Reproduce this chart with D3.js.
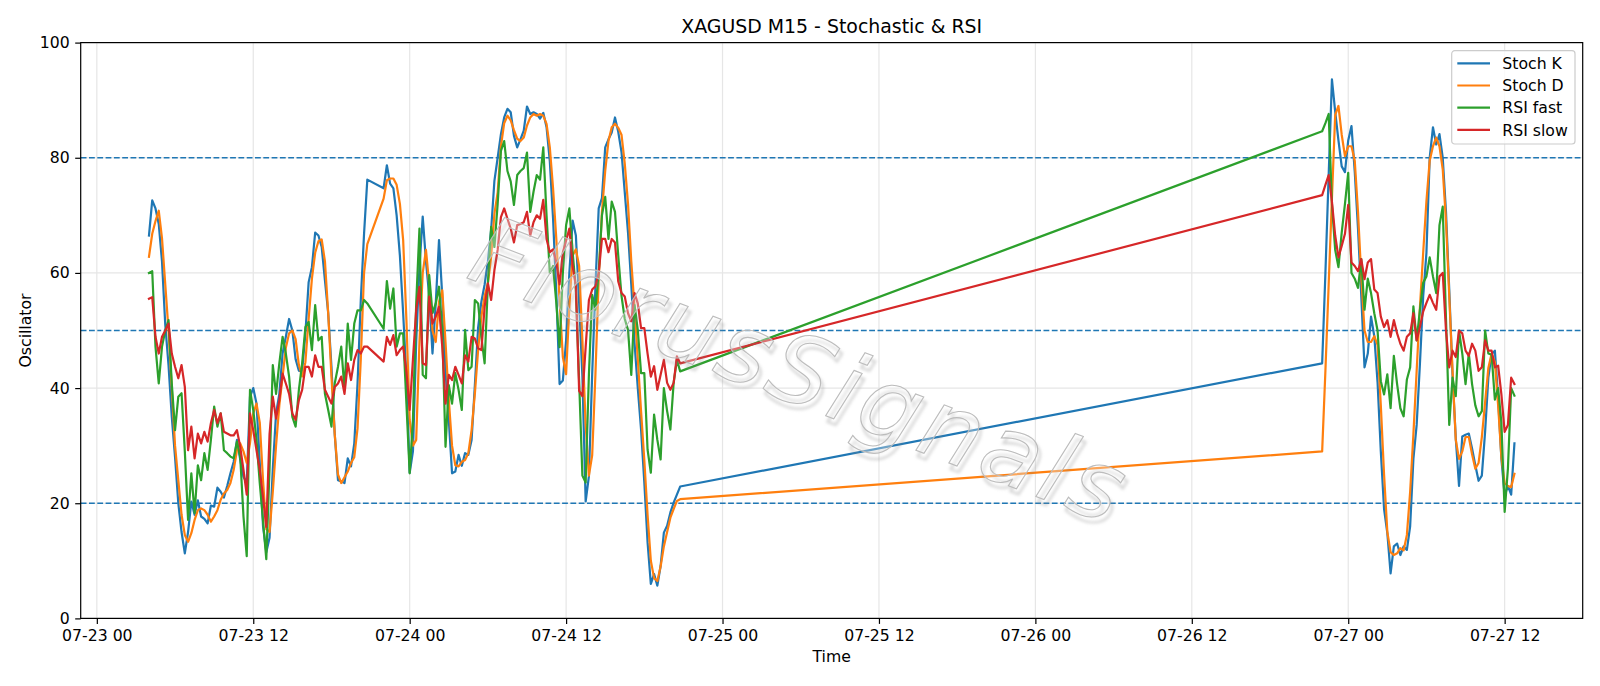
<!DOCTYPE html>
<html>
<head>
<meta charset="utf-8">
<script src="https://cdn.jsdelivr.net/npm/d3@7"></script>
<style>
  body { margin: 0; background: #fff; }
  svg text { font-family: "DejaVu Sans", sans-serif; }
</style>
</head>
<body>
<svg id="chart" width="1600" height="686"></svg>
<script>
// trading sessions: first bar (UTC) and number of 15 minute bars
const sessionStart = ["2025-07-23 04:00", "2025-07-23 22:00", "2025-07-26 22:00"];
const sessionBars = [68, 92, 60];

const stochK = [
  // 07-23 04:00 - 20:45
  66.5, 72.6, 71.2, 68.5, 62, 51, 44, 35, 28, 20,
  15, 11.3, 15, 20.3, 18, 20.5, 17.7, 17.3, 16.5, 19.6,
  19.4, 22.7, 22, 21, 23, 25.2, 27.2, 31, 27.6, 24.6,
  23.5, 38.5, 40, 37.3, 27, 16, 11.5, 14, 26, 35.6,
  39, 46, 48.9, 52, 50, 45, 43, 43, 49.5, 58.4,
  61, 67, 66.5, 64.5, 58.7, 53, 43.7, 32, 24, 23.8,
  23.5, 27.8, 26.4, 30.4, 40.8, 55.3, 66.8, 76.2,
  // 07-23 22:00 - 07-24 20:45
  74.7, 78.7, 75.5, 74.7, 70, 63, 53, 42, 25.3, 29,
  48, 61, 69.8, 62, 56, 46, 54.7, 65.7, 56, 43,
  34.5, 25.2, 25.5, 28.4, 26.5, 28.7, 28.4, 31, 40.5, 50.5,
  55, 58, 62, 67.5, 76, 80, 84.1, 87, 88.5, 87.9,
  83.8, 81.8, 83.2, 84.7, 88.9, 87.6, 87.9, 87.6, 86.8, 87.8,
  85.3, 79.4, 69.4, 56.5, 40.7, 41.3, 48.3, 60, 69.1, 66.5,
  54.8, 42, 20.3, 24.7, 42.4, 57.6, 71.2, 73, 81.8, 83.2,
  84.4, 87, 84.5, 81, 74, 67, 58, 47.8, 40, 32.8,
  23.6, 13.2, 6, 7.7, 5.7, 9.1, 14.9, 16.1, 18.4, 20.1,
  21.5, 22.9,
  // 07-26 22:00 - 07-27 12:45
  44.3, 60, 77, 93.6, 88, 83, 78.5, 77.5, 83, 85.5,
  77.6, 67.7, 56, 43.6, 46, 52.4, 49, 41, 29, 19,
  14.8, 7.8, 12.5, 13, 11, 12.5, 11.9, 16, 27.7, 33.6,
  44.2, 55.9, 63.5, 80, 85.3, 82.3, 84.1, 80, 70.6, 57.1,
  42.4, 31.3, 23, 31.6, 31.9, 32.1, 29.5, 26.6, 23.9, 24.8,
  32.4, 41.8, 45.9, 46.5, 38.3, 27.7, 21.3, 23, 21.5, 30.4
];

const stochD = [
  62.8, 66.8, 69, 70.8, 66, 58, 50, 40, 30, 24,
  18, 14.5, 13.3, 14.8, 17.1, 18.8, 19.1, 18.8, 18, 16.8,
  17.7, 18.8, 20.6, 21.7, 22.3, 23.5, 25.8, 29.2, 30.4, 29,
  27, 30.4, 35.6, 37.3, 34, 24, 15.5, 15, 22, 30,
  37, 42, 47, 49.5, 50, 48.5, 44, 42, 44.5, 52,
  59, 63.5, 65.5, 65.8, 62, 53, 42, 32, 25, 23.5,
  24.5, 25.5, 27, 28, 33, 45, 60, 65,

  72.9, 76.1, 76.4, 76.4, 75.3, 72, 65.7, 51.8, 34.5, 30,
  31, 48, 60, 64, 58, 50, 48, 55, 57, 48,
  38, 30, 26.6, 26.4, 27.2, 27.5, 28.7, 32.7, 39, 46.6,
  52.4, 56, 58.2, 62.8, 70.3, 74, 82, 86, 87.3, 86.5,
  84.8, 83.3, 82.9, 83.5, 85.6, 87, 87.6, 87.3, 87.6, 87.3,
  85.9, 81.8, 74.7, 65.9, 55.3, 45.4, 42.4, 54.2, 63, 64.1,
  61.2, 48.3, 33.6, 24.8, 28.3, 42.4, 58.9, 70.6, 77.7, 82.9,
  85.3, 85.9, 85.2, 84, 79, 72, 62, 54, 45, 36,
  27.5, 18, 10, 7, 6.5, 9, 12.5, 15, 17.5, 19,
  20.4, 20.7,

  29, 43, 58, 73, 87.4, 89, 84, 80.3, 82, 82,
  79.5, 70.6, 59.4, 50, 48, 48, 49, 47.5, 37, 25,
  15, 11.5, 11, 11.3, 12.2, 11.8, 14.5, 22, 32, 43,
  54, 63.5, 72.5, 79.5, 82, 83.5, 82, 78, 69, 56,
  43, 31, 27.7, 29, 31.5, 31.5, 28.5, 26, 27, 31.5,
  37.5, 43.5, 46, 44.5, 37, 28, 23.5, 23, 22.8, 25.1
];

const rsiFast = [
  60, 60.3, 47.2, 40.8, 47.2, 50, 51.8, 40.8, 32.7, 38.5,
  39.1, 29, 17.1, 25.2, 18.3, 26.6, 24, 28.7, 25.8, 31,
  36.8, 33.3, 35.6, 29.2, 28.7, 28.1, 27.8, 30.7, 28.1, 17.7,
  10.8, 39.7, 36.2, 31, 23.5, 17, 10.3, 26, 44, 39,
  44.3, 48.9, 46, 42, 35, 33.3, 39.7, 44.3, 50.6, 51.5,
  46.6, 54.4, 48.3, 48.9, 39, 36.2, 33.3, 40.8, 43.7, 47.2,
  39.7, 51.2, 44.9, 51.2, 53.5, 53.5, 55.3, 54.7,

  50.3, 58.6, 53.8, 57.3, 47.2, 49.5, 49.5, 37.3, 25.2, 34.5,
  54.7, 67.7, 42.3, 41.7, 59.6, 53, 54.7, 57.6, 50.1, 29.8,
  40.5, 37.3, 42.6, 39.7, 36.2, 50.1, 43.1, 43.7, 55.3, 54.7,
  48.9, 44.3, 58.2, 68, 64.5, 72, 81.2, 82.9, 77.7, 75.9,
  71.8, 77, 77.7, 78.2, 80.9, 70.6, 74.1, 77, 76.2, 81.8,
  70, 60, 61.2, 54.8, 47.1, 60, 68.3, 71.2, 63.6, 57.1,
  41.2, 24.8, 23.6, 42.4, 56.2, 53.6, 60, 70, 73.2, 65.9,
  72.4, 70.6, 63, 56, 52, 50.1, 42.3, 54.4, 50.1, 42.6,
  42.6, 29.3, 25.3, 35.4, 31, 27.6, 40, 36, 32.8, 40.9,
  44.9, 42.9,

  84.6, 86, 87.6, 72, 64, 61, 67, 72, 77.4, 60,
  59, 57.4, 62.4, 53.6, 59, 56.5, 53, 50, 41.2, 38.9,
  42.4, 36.5, 45.6, 40.7, 36.5, 35.1, 41.5, 43.6, 54.2, 48.3,
  53.6, 58.3, 59.4, 62.7, 59.4, 56.5, 68.3, 71.5, 52, 33.6,
  41.8, 38.6, 50, 46, 40.7, 46, 40.7, 37, 35.1, 36,
  50, 46, 45.8, 38, 40, 34, 18.5, 26, 40, 38.7
];

const rsiSlow = [
  55.5, 55.8, 48.9, 46, 48.9, 50, 51.2, 46, 43.7, 41.7,
  44, 40.2, 29.2, 33.3, 27.8, 32.1, 30.4, 32.4, 30.7, 33.9,
  36.2, 33.9, 35.6, 32.4, 32.1, 31.8, 31.8, 32.7, 29.8, 25.8,
  21.5, 35.6, 32.7, 29.2, 25.8, 21, 15.9, 32, 38.5, 34.7,
  37.9, 42.5, 40.8, 39, 35.6, 34.5, 37.9, 39.7, 43.7, 43.7,
  42, 45.7, 43.7, 43.7, 39.7, 38.5, 37.3, 40.2, 40.8, 42,
  39, 44.3, 41.4, 44.9, 46.6, 46, 47.2, 47.2,

  44.6, 48.9, 47.5, 49.2, 45.7, 46.6, 47.2, 42.8, 36.2, 45,
  53.6, 57.6, 44.3, 44, 55.9, 51.2, 52.4, 54.1, 47.2, 37.3,
  42.3, 41.4, 43.7, 42.3, 40.8, 45.7, 44.6, 48.9, 48.6, 46.9,
  46.6, 54.1, 58.2, 55.3, 60.5, 64, 69.7, 71.2, 69.4, 67.7,
  65.3, 68.3, 68.5, 68.8, 70.6, 66.5, 68.8, 70, 69.4, 72.7,
  65.9, 63.6, 64.1, 61.8, 58, 63.6, 65.6, 67.7, 61.2, 57.7,
  39.5, 38.6, 47.1, 55.3, 57.1, 57.7, 60, 65.9, 65.9, 63.6,
  65.9, 65.3, 58.5, 56.5, 55.9, 53, 51.6, 56.5, 54.7, 50.4,
  50.4, 46, 42, 43.8, 39.7, 42.3, 44.9, 40.9, 39.7, 40.9,
  45.5, 44.3,

  73.5, 75.3, 77, 72.4, 66.5, 62.7, 64.7, 66.8, 71.8, 61.8,
  61.2, 60.3, 62.4, 58.9, 61.8, 62.4, 57.1, 56.5, 52.4, 50.6,
  51.8, 48.9, 51.8, 49.5, 47.7, 46.5, 48.9, 49.5, 53, 48.3,
  50.6, 53.3, 54.8, 56.2, 54.8, 53.6, 59.4, 60, 50, 43.6,
  46.5, 45.4, 50, 49.5, 46.5, 45.6, 47.7, 46.5, 43, 43.6,
  48.3, 46.5, 46.5, 43.6, 43.9, 38.9, 32.4, 33.6, 41.8, 40.7
];

const levels = [20, 50, 80];
const yTicks = [0, 20, 40, 60, 80, 100];
const seriesNames = ["Stoch K", "Stoch D", "RSI fast", "RSI slow"];
const seriesColors = ["#1f77b4", "#ff7f0e", "#2ca02c", "#d62728"];

var cfg = {
  width: 1600,
  height: 686,
  margin: {top: 42.6, right: 17.3, bottom: 67.6, left: 80.7},
  font: 15.7
};
cfg.plotW = cfg.width - cfg.margin.left - cfg.margin.right;
cfg.plotH = cfg.height - cfg.margin.top - cfg.margin.bottom;

// bar times
const parseTime = d3.utcParse("%Y-%m-%d %H:%M");
var times = [];
sessionStart.forEach((s, i) => {
  let t0 = parseTime(s);
  for (let k = 0; k < sessionBars[i]; k++) times.push(d3.utcMinute.offset(t0, 15 * k));
});

// matplotlib style 5% margin on the time axis
var tExt = d3.extent(times);
var pad = (tExt[1] - tExt[0]) * 0.05;

var scale = {
  x: d3.scaleUtc()
    .domain([new Date(+tExt[0] - pad), new Date(+tExt[1] + pad)])
    .range([0, cfg.plotW]),
  y: d3.scaleLinear()
    .domain([0, 100])
    .range([cfg.plotH, 0])
};

var svg = d3.select("#chart");
var g = svg.append("g")
  .attr("transform", `translate(${cfg.margin.left},${cfg.margin.top})`);

function drawGrid(){
  let xt = d3.utcHour.every(12).range(scale.x.domain()[0], scale.x.domain()[1]);
  g.append("g").attr("class", "grid")
    .selectAll("line.gx").data(xt).enter().append("line")
    .attr("x1", d => scale.x(d)).attr("x2", d => scale.x(d))
    .attr("y1", 0).attr("y2", cfg.plotH)
    .attr("stroke", "#e6e6e6").attr("stroke-width", 1.2);
  g.select(".grid")
    .selectAll("line.gy").data(yTicks).enter().append("line")
    .attr("x1", 0).attr("x2", cfg.plotW)
    .attr("y1", d => scale.y(d)).attr("y2", d => scale.y(d))
    .attr("stroke", "#e6e6e6").attr("stroke-width", 1.2);
}

function drawLevels(){
  g.append("g")
    .selectAll("line").data(levels).enter().append("line")
    .attr("x1", 0).attr("x2", cfg.plotW)
    .attr("y1", d => scale.y(d)).attr("y2", d => scale.y(d))
    .attr("stroke", "#1f77b4")
    .attr("stroke-width", 1.5)
    .attr("stroke-dasharray", "5.8,2.5");
}

function drawSeries(){
  let all = [stochK, stochD, rsiFast, rsiSlow];
  let line = d3.line()
    .x((d, i) => scale.x(times[i]))
    .y(d => scale.y(d));
  g.append("g").attr("class", "series")
    .selectAll("path").data(all).enter().append("path")
    .attr("d", d => line(d))
    .attr("fill", "none")
    .attr("stroke", (d, i) => seriesColors[i])
    .attr("stroke-width", 2.2)
    .attr("stroke-linejoin", "round")
    .attr("stroke-linecap", "square");
}

function drawWatermark(){
  let defs = svg.append("defs");
  defs.append("filter").attr("id", "wmblur")
    .append("feGaussianBlur").attr("stdDeviation", 1.6);

  let wm = svg.append("g")
    .attr("transform", "translate(796,376) rotate(21)");
  wm.append("text")
    .attr("x", 4).attr("y", 5)
    .attr("text-anchor", "middle")
    .attr("dominant-baseline", "middle")
    .attr("font-size", 96)
    .attr("font-style", "italic")
    .attr("textLength", 690)
    .attr("fill", "none")
    .attr("stroke", "#8c8c8c")
    .attr("stroke-width", 2.2)
    .attr("stroke-opacity", 0.4)
    .attr("filter", "url(#wmblur)")
    .text("FlorusSignals");
  wm.append("text")
    .attr("text-anchor", "middle")
    .attr("dominant-baseline", "middle")
    .attr("font-size", 96)
    .attr("font-style", "italic")
    .attr("textLength", 690)
    .attr("fill", "#ffffff")
    .attr("fill-opacity", 0.3)
    .attr("stroke", "#bcbcbc")
    .attr("stroke-width", 1.1)
    .text("FlorusSignals");
}

function drawAxes(){
  let xt = d3.utcHour.every(12).range(scale.x.domain()[0], scale.x.domain()[1]);

  let xAxis = g.append("g")
    .attr("transform", `translate(0,${cfg.plotH})`)
    .call(d3.axisBottom(scale.x)
      .tickValues(xt)
      .tickFormat(d3.utcFormat("%m-%d %H"))
      .tickSizeOuter(0)
      .tickSize(5.5)
      .tickPadding(5.5));

  let yAxis = g.append("g")
    .call(d3.axisLeft(scale.y)
      .tickValues(yTicks)
      .tickSizeOuter(0)
      .tickSize(5.5)
      .tickPadding(5.5));

  [xAxis, yAxis].forEach(a => {
    a.select(".domain").remove();
    a.selectAll("line").attr("stroke", "#000").attr("stroke-width", 1.2);
    a.selectAll("text")
      .attr("fill", "#000")
      .style("font-size", cfg.font + "px")
      .style("font-family", "DejaVu Sans");
  });

  // frame
  g.append("rect")
    .attr("x", 0).attr("y", 0)
    .attr("width", cfg.plotW).attr("height", cfg.plotH)
    .attr("fill", "none")
    .attr("stroke", "#000")
    .attr("stroke-width", 1.2);

  // labels
  svg.append("text")
    .attr("x", cfg.margin.left + cfg.plotW / 2)
    .attr("y", 33)
    .attr("text-anchor", "middle")
    .style("font-size", "18.9px")
    .text("XAGUSD M15 - Stochastic & RSI");

  svg.append("text")
    .attr("x", cfg.margin.left + cfg.plotW / 2)
    .attr("y", 662)
    .attr("text-anchor", "middle")
    .style("font-size", cfg.font + "px")
    .text("Time");

  svg.append("text")
    .attr("transform", `translate(31,${cfg.margin.top + cfg.plotH / 2}) rotate(-90)`)
    .attr("text-anchor", "middle")
    .style("font-size", cfg.font + "px")
    .text("Oscillator");
}

function drawLegend(){
  let lg = svg.append("g").attr("transform", "translate(1451.7,50.7)");
  lg.append("rect")
    .attr("width", 123.3).attr("height", 93.3)
    .attr("rx", 3).attr("ry", 3)
    .attr("fill", "#fff").attr("fill-opacity", 0.8)
    .attr("stroke", "#cccccc").attr("stroke-width", 1.2);

  let rows = lg.selectAll("g.row").data(seriesNames).enter().append("g")
    .attr("transform", (d, i) => `translate(0,${12.6 + i * 22.2})`);
  rows.append("line")
    .attr("x1", 5.6).attr("x2", 38.3)
    .attr("stroke", (d, i) => seriesColors[i])
    .attr("stroke-width", 2.2);
  rows.append("text")
    .attr("x", 50.6).attr("dy", "0.36em")
    .style("font-size", cfg.font + "px")
    .text(d => d);
}

drawGrid();
drawLevels();
drawSeries();
drawWatermark();
drawAxes();
drawLegend();
</script>
</body>
</html>
